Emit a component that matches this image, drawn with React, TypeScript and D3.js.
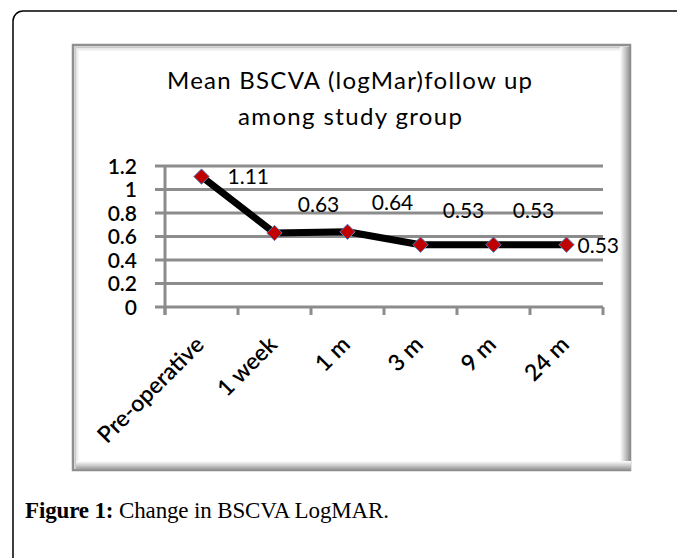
import React from "react";
import * as d3 from "d3";

const categories = ["Pre-operative", "1 week", "1 m", "3 m", "9 m", "24 m"];
const bscva = [1.11, 0.63, 0.64, 0.53, 0.53, 0.53];
const valueLabels = ["1.11", "0.63", "0.64", "0.53", "0.53", "0.53"];
const yTicks = [0, 0.2, 0.4, 0.6, 0.8, 1, 1.2];

// where Excel left each data label, relative to its point
const labelOffsets: [number, number, string][] = [
  [26, 0, "start"],
  [44, -29, "middle"],
  [45, -29, "middle"],
  [43, -34, "middle"],
  [40, -34, "middle"],
  [11, 1, "start"],
];

const W = 677;
const H = 558;

const App: React.FC = () => {
  const x = d3.scaleBand<string>().domain(categories).range([165, 603]);
  const y = d3.scaleLinear().domain([0, 1.2]).range([307, 166]);
  const cx = (c: string) => x(c)! + x.bandwidth() / 2;

  const line = d3
    .line<number>()
    .x((_, i) => cx(categories[i]))
    .y((d) => y(d));

  const diamond = d3.symbol(d3.symbolDiamond2, 150)()!;
  const boundaries = categories.map((c) => x(c)!).concat([x.range()[1]]);

  return (
    <svg
      width={W}
      height={H}
      style={{ position: "fixed", left: 0, top: 0, background: "#fff" }}
    >
      <defs>
        <linearGradient id="shR" x1="0" x2="1" y1="0" y2="0">
          <stop offset="0" stopColor="#fff" />
          <stop offset="0.5" stopColor="#c4c4c4" />
          <stop offset="1" stopColor="#858585" />
        </linearGradient>
        <linearGradient id="shB" x1="0" x2="0" y1="0" y2="1">
          <stop offset="0" stopColor="#fff" />
          <stop offset="0.5" stopColor="#c4c4c4" />
          <stop offset="1" stopColor="#858585" />
        </linearGradient>
      </defs>

      {/* page frame, only top and left edges are in view */}
      <path d="M13,700 V21 A10,10 0 0 1 23,11 H900" fill="none" stroke="#000" strokeWidth={1.5} />

      {/* chart area with bevel */}
      <rect x={73} y={45} width={557} height={425} fill="#fff" stroke="#8f8f8f" strokeWidth={2.5} />
      <rect x={75.5} y={47.5} width={552} height={420} fill="none" stroke="#c9c9c9" strokeWidth={2} />
      <rect x={77.5} y={49.5} width={548} height={416} fill="none" stroke="#ededed" strokeWidth={2} />
      <rect x={620} y={47} width={11} height={424} fill="url(#shR)" />
      <rect x={76} y={461} width={555} height={10} fill="url(#shB)" />

      <g fontFamily="Lato, 'Open Sans', sans-serif" fill="#000">
        <text x={349.5} y={89} fontSize={24} textAnchor="middle" textLength={365}>
          Mean BSCVA (logMar)follow up
        </text>
        <text x={350} y={125} fontSize={24} textAnchor="middle" textLength={224}>
          among study group
        </text>

        {/* grid */}
        {yTicks.map((t) => (
          <line key={t} x1={155} x2={603} y1={y(t)} y2={y(t)} stroke="#8c8c8c" strokeWidth={3} />
        ))}
        <line x1={165} x2={165} y1={y(1.2)} y2={315} stroke="#8c8c8c" strokeWidth={3} />
        {boundaries.map((b, i) => (
          <line key={i} x1={b} x2={b} y1={y(0)} y2={315} stroke="#8c8c8c" strokeWidth={3} />
        ))}

        {yTicks.map((t) => (
          <text key={t} x={137} y={y(t)} dy="0.36em" fontSize={21} fontWeight={600} textAnchor="end">
            {d3.format("~g")(t)}
          </text>
        ))}

        {categories.map((c) => (
          <text
            key={c}
            transform={`translate(${cx(c) + 4},346) rotate(-45)`}
            fontSize={23}
            fontWeight={600}
            textAnchor="end"
          >
            {c}
          </text>
        ))}

        <path d={line(bscva)!} fill="none" stroke="#000" strokeWidth={7} strokeLinejoin="round" />
        {bscva.map((v, i) => (
          <path
            key={i}
            d={diamond}
            transform={`translate(${cx(categories[i])},${y(v)})`}
            fill="#c00000"
            stroke="#4f81bd"
            strokeWidth={1}
          />
        ))}

        {bscva.map((v, i) => (
          <text
            key={i}
            x={cx(categories[i]) + labelOffsets[i][0]}
            y={y(v) + labelOffsets[i][1]}
            dy="0.36em"
            fontSize={21}
            textAnchor={labelOffsets[i][2]}
          >
            {valueLabels[i]}
          </text>
        ))}
      </g>

      <text x={25} y={518} fontFamily="'Liberation Serif', serif" fontSize={23} textLength={364}>
        <tspan fontWeight="bold">Figure 1:</tspan> Change in BSCVA LogMAR.
      </text>
    </svg>
  );
};

export default App;
